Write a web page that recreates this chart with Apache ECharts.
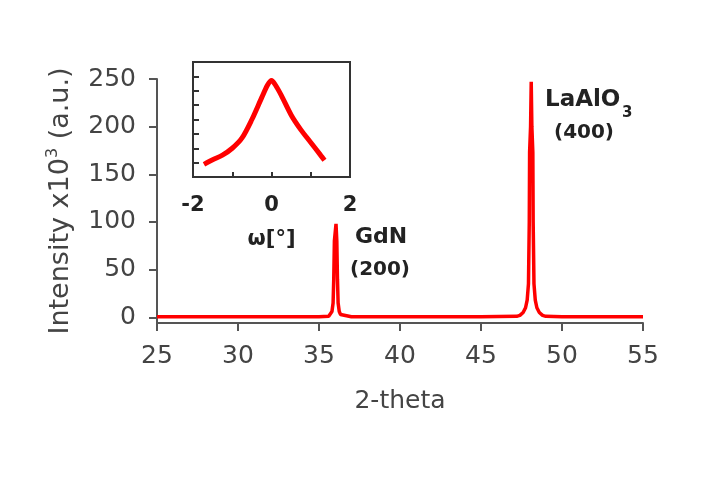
<!DOCTYPE html>
<html>
<head>
<meta charset="utf-8">
<script src="https://cdn.jsdelivr.net/npm/echarts@6/dist/echarts.min.js"></script>
<style>
html,body{margin:0;padding:0;background:#fff;}
#c{width:720px;height:477px;}
</style>
</head>
<body>
<div id="c"></div>
<script>
// Main XRD pattern
var twoTheta = [25, 30, 35, 35.6, 35.72, 35.8, 35.87, 35.91, 35.95, 36.05, 36.1, 36.14, 36.18, 36.25, 36.33, 36.45, 37, 40, 45, 47.2, 47.4, 47.6, 47.75, 47.85, 47.93, 47.98, 48.0, 48.06, 48.1, 48.14, 48.2, 48.22, 48.27, 48.35, 48.45, 48.6, 48.8, 49.0, 50, 55];
var intensity = [0.5, 0.5, 0.5, 1, 3, 6, 15, 40, 80, 98, 80, 40, 15, 6, 3, 1, 0.5, 0.5, 0.5, 1, 2, 5, 10, 18, 35, 100, 173, 200, 247, 200, 173, 100, 35, 18, 10, 5, 2, 1, 0.5, 0.5];
var xTicks = [25, 30, 35, 40, 45, 50, 55];
var yTicks = [0, 50, 100, 150, 200, 250];

// Inset rocking curve
var omega = [-1.72, -1.5, -1.25, -1.0, -0.75, -0.5, -0.25, -0.1, 0, 0.1, 0.25, 0.5, 0.75, 1.0, 1.25, 1.35];
var rocking = [11, 15, 19, 25, 34, 50, 69, 80, 84, 80, 71, 54, 41, 30, 19, 14.5];
var insetXTicks = [-2, 0, 2];

var chart = echarts.init(document.getElementById('c'));
var axisCol = '#555';
var txtCol = '#444';
var F = 'DejaVu Sans';

chart.setOption({
  backgroundColor: '#fff',
  animation: false,
  grid: [
    {left: 157, right: 77, top: 79, bottom: 154},
    {left: 193, top: 62, width: 157, height: 115, show: true, borderColor: '#333', borderWidth: 2, backgroundColor: 'transparent'}
  ],
  xAxis: [
    {
      type: 'value', gridIndex: 0, min: 25, max: 55, interval: 5,
      axisLine: {show: true, onZero: false, lineStyle: {color: axisCol, width: 2}},
      axisTick: {show: true, length: 8, lineStyle: {color: axisCol, width: 2}},
      axisLabel: {color: txtCol, fontSize: 25, fontFamily: F, margin: 21,
        customValues: xTicks},
      splitLine: {show: false},
      name: '2-theta', nameLocation: 'middle', nameGap: 66,
      nameTextStyle: {color: txtCol, fontSize: 25, fontFamily: F}
    },
    {
      type: 'value', gridIndex: 1, min: -2, max: 2, interval: 1,
      axisLine: {show: false, onZero: false},
      axisTick: {show: true, inside: true, length: 5, lineStyle: {color: '#333', width: 2}},
      axisLabel: {color: '#222', fontSize: 21, fontWeight: 'bold', fontFamily: F, margin: 18,
        customValues: insetXTicks},
      splitLine: {show: false},
      name: 'ω[°]', nameLocation: 'middle', nameGap: 52,
      nameTextStyle: {color: '#222', fontSize: 21, fontWeight: 'bold', fontFamily: F}
    }
  ],
  yAxis: [
    {
      type: 'value', gridIndex: 0, min: -6, max: 250,
      axisLine: {show: true, onZero: false, lineStyle: {color: axisCol, width: 2}},
      axisTick: {show: true, length: 8, lineStyle: {color: axisCol, width: 2}, customValues: yTicks},
      axisLabel: {color: txtCol, fontSize: 25, fontFamily: F, margin: 21, customValues: yTicks},
      splitLine: {show: false},
      name: '{a|Intensity x10}{s|3}{a| (a.u.)}',
      nameLocation: 'middle', nameGap: 80, nameRotate: 90,
      nameTextStyle: {
        color: txtCol, fontFamily: F, fontSize: 27,
        rich: {
          a: {color: txtCol, fontFamily: F, fontSize: 27, lineHeight: 32},
          s: {color: txtCol, fontFamily: F, fontSize: 16, lineHeight: 32, verticalAlign: 'top'}
        }
      }
    },
    {
      type: 'value', gridIndex: 1, min: 0, max: 100, interval: 12.5,
      axisLine: {show: false, onZero: false},
      axisTick: {show: true, inside: true, length: 6, lineStyle: {color: '#333', width: 2}},
      axisLabel: {show: false},
      splitLine: {show: false}
    }
  ],
  series: [
    {
      type: 'line', xAxisIndex: 0, yAxisIndex: 0, showSymbol: false, symbol: 'none',
      lineStyle: {color: '#ff0000', width: 3.5},
      data: twoTheta.map(function (x, i) { return [x, intensity[i]]; })
    },
    {
      type: 'line', xAxisIndex: 1, yAxisIndex: 1, showSymbol: false, symbol: 'none', smooth: 0.3,
      lineStyle: {color: '#ff0000', width: 5},
      data: omega.map(function (x, i) { return [x, rocking[i]]; })
    }
  ],
  graphic: [
    {type: 'text', x: 381, y: 237, style: {text: 'GdN', fill: '#222', font: 'bold 22px "DejaVu Sans"', textAlign: 'center', textVerticalAlign: 'middle'}},
    {type: 'text', x: 380, y: 270, style: {text: '(200)', fill: '#222', font: 'bold 20px "DejaVu Sans"', textAlign: 'center', textVerticalAlign: 'middle'}},
    {type: 'text', x: 545, y: 100, style: {text: 'LaAlO', fill: '#222', font: 'bold 23px "DejaVu Sans"', textAlign: 'left', textVerticalAlign: 'middle'}},
    {type: 'text', x: 622, y: 113, style: {text: '3', fill: '#222', font: 'bold 15px "DejaVu Sans"', textAlign: 'left', textVerticalAlign: 'middle'}},
    {type: 'text', x: 584, y: 133, style: {text: '(400)', fill: '#222', font: 'bold 20px "DejaVu Sans"', textAlign: 'center', textVerticalAlign: 'middle'}}
  ]
});
</script>
</body>
</html>
